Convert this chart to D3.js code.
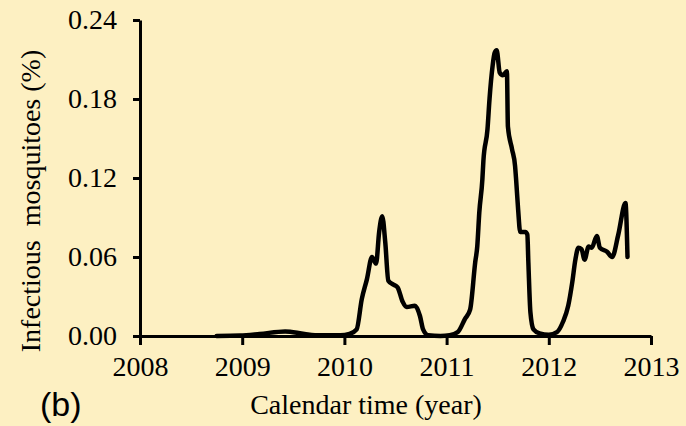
<!DOCTYPE html>
<html>
<head>
<meta charset="utf-8">
<script src="https://cdn.jsdelivr.net/npm/d3@7"></script>
<style>
  html, body { margin: 0; padding: 0; background: #fdf0c2; }
  svg { display: block; }
</style>
</head>
<body>
<svg id="chart" width="686" height="426"></svg>
<script>
// Calendar time (decimal years) and share of infectious mosquitoes (%)
const timeYears = [
  2008.75, 2008.98, 2009.17, 2009.42, 2009.61, 2009.76, 2009.96, 2010.05,
  2010.12, 2010.17, 2010.22, 2010.27, 2010.31, 2010.34, 2010.37, 2010.40,
  2010.43, 2010.48, 2010.52, 2010.57, 2010.61, 2010.69, 2010.74, 2010.77,
  2010.82, 2010.94, 2011.03, 2011.11, 2011.18, 2011.23, 2011.28, 2011.30,
  2011.32, 2011.35, 2011.36, 2011.40, 2011.42, 2011.45, 2011.47, 2011.49,
  2011.52, 2011.55, 2011.59, 2011.60, 2011.64, 2011.67, 2011.68, 2011.70,
  2011.72, 2011.77, 2011.79, 2011.80, 2011.82, 2011.85, 2011.91, 2012.00,
  2012.08, 2012.14, 2012.19, 2012.23, 2012.26, 2012.29, 2012.32, 2012.35,
  2012.39, 2012.42, 2012.47, 2012.50, 2012.57, 2012.62, 2012.68, 2012.75,
  2012.77
];
const infectiousPct = [
  0.0000, 0.0003, 0.0015, 0.0035, 0.0015, 0.0005, 0.0005, 0.0015,
  0.005, 0.028, 0.043, 0.060, 0.055, 0.079, 0.091, 0.071,
  0.042, 0.039, 0.037, 0.026, 0.022, 0.023, 0.015, 0.005,
  0.0005, 0.0000, 0.0005, 0.003, 0.013, 0.020, 0.056, 0.068,
  0.094, 0.119, 0.133, 0.157, 0.180, 0.205, 0.215, 0.217,
  0.200, 0.198, 0.201, 0.159, 0.142, 0.129, 0.119, 0.096,
  0.079, 0.079, 0.077, 0.056, 0.018, 0.005, 0.002, 0.001,
  0.003, 0.011, 0.023, 0.041, 0.058, 0.067, 0.066, 0.058,
  0.068, 0.067, 0.076, 0.067, 0.064, 0.060, 0.077, 0.101,
  0.060
];
const xTicks = [2008, 2009, 2010, 2011, 2012, 2013];
const yTicks = [0, 0.06, 0.12, 0.18, 0.24];

const svg = d3.select("#chart");
const serif = "'Liberation Serif', 'Times New Roman', serif";

svg.append("rect").attr("width", 686).attr("height", 426).attr("fill", "#fdf0c2");

const x = d3.scaleLinear().domain([2008, 2013]).range([140, 651]);
const y = d3.scaleLinear().domain([0, 0.24]).range([336, 20]);

// x axis
const gx = svg.append("g")
  .attr("transform", `translate(0,${y(0)})`)
  .call(d3.axisBottom(x).tickValues(xTicks).tickFormat(d3.format("d"))
    .tickSize(9).tickSizeOuter(0).tickPadding(11));

// y axis
const gy = svg.append("g")
  .attr("transform", `translate(${x(2008)},0)`)
  .call(d3.axisLeft(y).tickValues(yTicks).tickFormat(d3.format(".2f"))
    .tickSize(7).tickSizeOuter(0).tickPadding(16));

[gx, gy].forEach(g => {
  g.select(".domain").attr("stroke", "#000").attr("stroke-width", 3);
  g.selectAll(".tick line").attr("stroke", "#000").attr("stroke-width", 3);
  g.selectAll(".tick text")
    .attr("fill", "#000")
    .style("font-family", serif)
    .style("font-size", "28px");
});

// series
const pts = timeYears.map((t, i) => [t, infectiousPct[i]]);
const line = d3.line()
  .x(d => x(d[0]))
  .y(d => y(d[1]))
  .curve(d3.curveMonotoneX);

svg.append("path")
  .datum(pts)
  .attr("d", line)
  .attr("fill", "none")
  .attr("stroke", "#000")
  .attr("stroke-width", 4.5)
  .attr("stroke-linejoin", "round")
  .attr("stroke-linecap", "round");

// axis titles
svg.append("text")
  .attr("x", 366).attr("y", 414)
  .attr("text-anchor", "middle")
  .style("font-family", serif).style("font-size", "28px")
  .text("Calendar time (year)");

svg.append("text")
  .attr("transform", "translate(40,201) rotate(-90)")
  .attr("text-anchor", "middle")
  .style("font-family", serif).style("font-size", "28px")
  .style("white-space", "pre")
  .text("Infectious  mosquitoes (%)");

// panel tag
svg.append("text")
  .attr("x", 40).attr("y", 416)
  .style("font-family", "'Liberation Sans', Arial, sans-serif")
  .style("font-size", "34px")
  .text("(b)");
</script>
</body>
</html>
